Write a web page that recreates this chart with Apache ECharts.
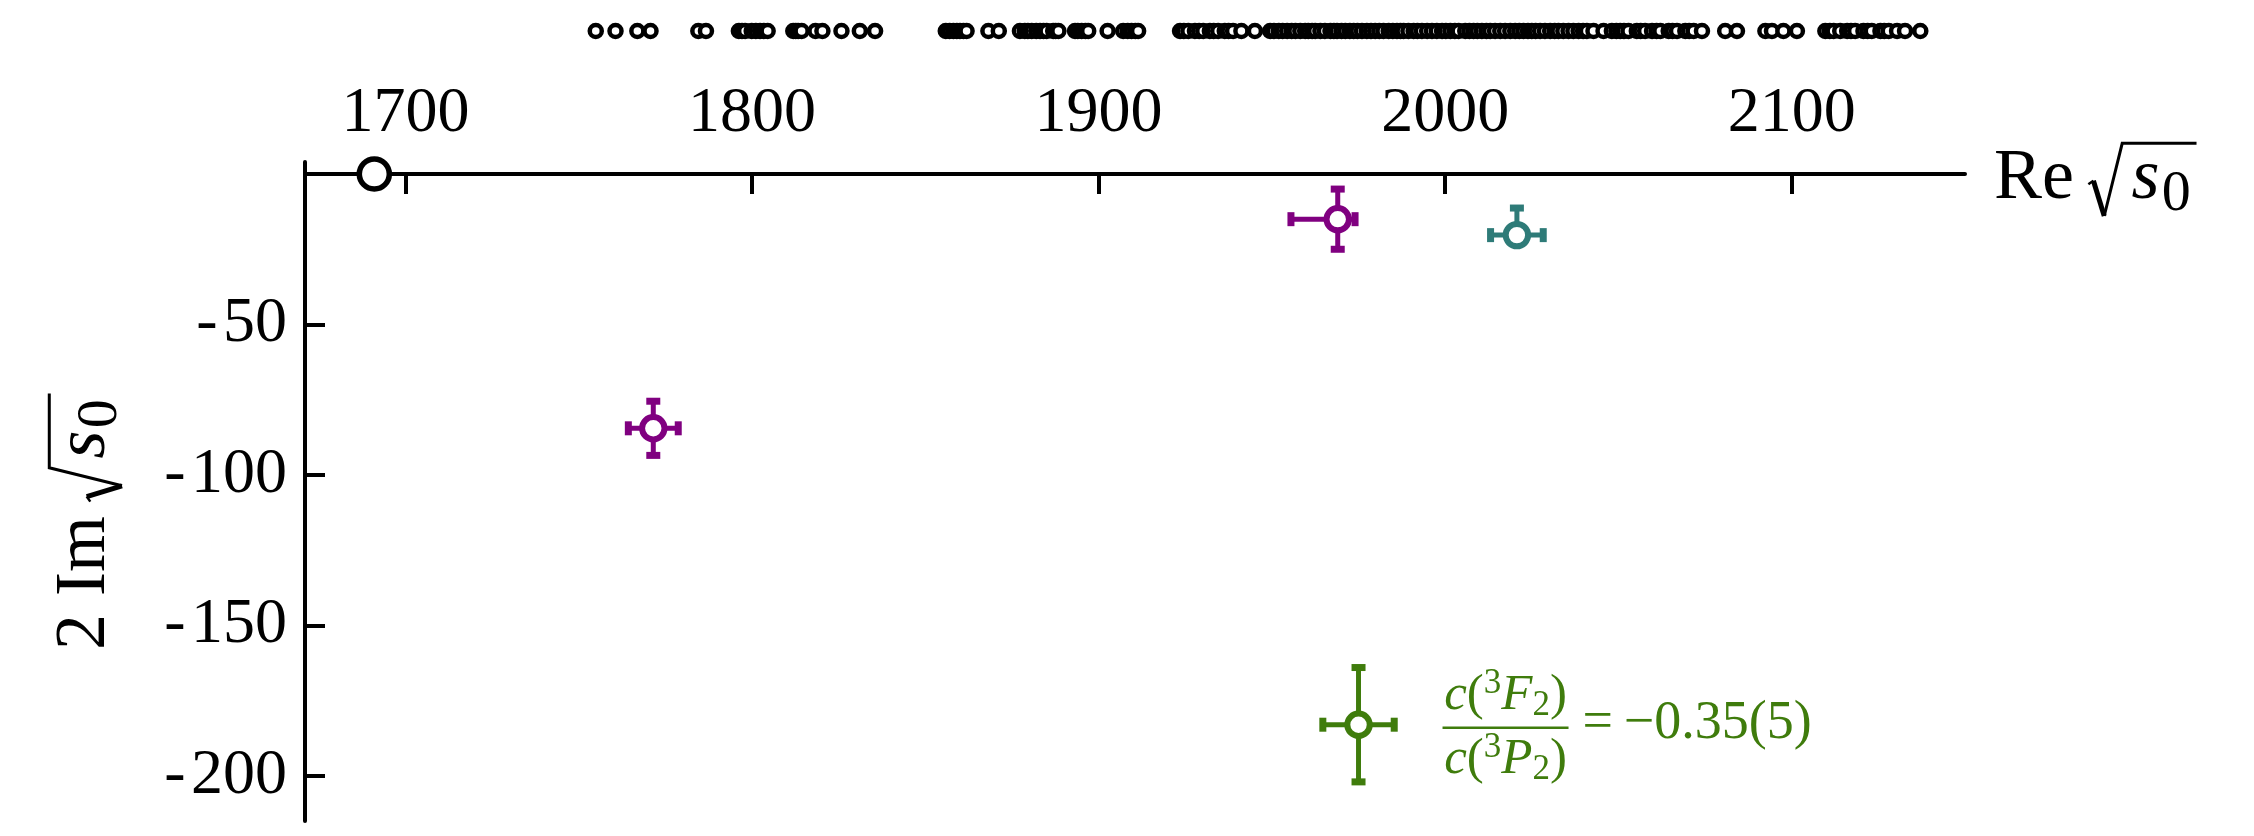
<!DOCTYPE html>
<html>
<head>
<meta charset="utf-8">
<script src="https://cdn.jsdelivr.net/npm/echarts@6/dist/echarts.min.js"></script>
<style>
  html, body { margin: 0; padding: 0; background: #fff; }
  #chart { width: 2254px; height: 836px; }
</style>
</head>
<body>
<div id="chart"></div>
<script>
// ---- data -------------------------------------------------------------
const reTicks = [1700, 1800, 1900, 2000, 2100];
const imTicks = [-200, -150, -100, -50];

// Re sqrt(s) of the two-body thresholds shown as the strip above the axis
const thresholdRe = [
  1754.9, 1760.6, 1766.9, 1770.7, 1784.5, 1786.7,
  1796.2, 1797.1, 1798.0, 1799.9, 1801.1, 1802.3, 1803.4, 1804.5,
  1811.9, 1812.6, 1813.3, 1814.3, 1818.3, 1820.3, 1825.8, 1831.1, 1835.5,
  1855.9, 1857.0, 1858.1, 1859.1, 1860.0, 1861.0, 1861.9, 1868.2, 1871.2,
  1877.3, 1878.7, 1879.6, 1880.7, 1882.0, 1883.1, 1884.1, 1885.0, 1886.9, 1887.6, 1888.4,
  1893.2, 1894.0, 1895.1, 1896.2, 1897.0, 1902.6, 1907.1, 1908.4, 1909.5, 1910.6, 1911.4,
  1923.5, 1924.6, 1925.9, 1927.8, 1929.0, 1930.2, 1932.1, 1933.2, 1934.5, 1936.4,
  1937.5, 1938.8, 1941.2, 1945.1,
  1949.5, 1950.6, 1952.0, 1953.1, 1954.4, 1955.7, 1956.8, 1958.2, 1959.6, 1960.5,
  1961.6, 1962.5, 1964.0, 1965.3, 1966.9, 1967.9, 1968.8, 1970.1, 1971.2, 1972.5,
  1973.6, 1974.7, 1976.0, 1977.4, 1978.6, 1979.8, 1981.0, 1982.2, 1983.7, 1984.9,
  1986.1, 1987.1, 1988.0, 1989.4, 1990.9, 1992.0, 1993.3, 1994.8, 1996.2, 1997.6,
  1999.1, 2000.2, 2001.5, 2002.8, 2003.9, 2005.8, 2007.0, 2008.2, 2009.3, 2010.6,
  2011.9, 2013.0, 2014.4, 2015.9, 2017.3, 2018.8, 2020.2, 2021.4, 2022.6, 2023.9,
  2025.0, 2026.1, 2027.4, 2028.8, 2030.3, 2031.6, 2032.7, 2034.1, 2035.6, 2037.0,
  2038.5, 2039.8, 2040.9, 2042.8, 2045.7,
  2048.1, 2049.4, 2050.5, 2051.6, 2052.9, 2055.3, 2056.4, 2057.7, 2059.7, 2061.0,
  2062.1, 2064.5, 2065.6, 2066.9, 2069.3, 2070.4, 2071.7, 2074.1,
  2080.8, 2084.2, 2092.4, 2094.3, 2097.6, 2101.5,
  2109.7, 2111.0, 2112.1, 2114.0, 2116.0, 2117.1, 2118.3, 2120.7, 2121.9, 2123.1,
  2125.6, 2126.7, 2128.0, 2130.4, 2132.7, 2137.1
];

// isolated marker on the real axis
const referencePole = [[1691, 0]];

// poles: [Re, 2 Im, Re err -, Re err +, Im err -, Im err +]
const polesPurple = [
  [1771.5, -84.5, 7.2, 7.2, 9.0, 9.0],
  [1969.0, -15.0, 13.5, 5.0, 10.0, 10.0]
];
const polesTeal = [
  [2020.7, -20.3, 7.6, 7.6, 2.0, 9.0]
];
const polesGreen = [
  [1975.0, -183.0, 10.3, 10.3, 19.0, 19.0]
];

const PURPLE = '#800080';
const TEAL = '#2e7b78';
const GREEN = '#3f7c0c';
const FONT = '"Liberation Serif", "DejaVu Serif", serif';

// ---- helpers ----------------------------------------------------------
const measureCtx = document.createElement('canvas').getContext('2d');
function textWidth(str, font) {
  measureCtx.font = font;
  return measureCtx.measureText(str).width;
}
// distance from the 'middle' text baseline down to the alphabetic baseline
function middleToBaseline(font) {
  measureCtx.font = font;
  measureCtx.textBaseline = 'middle';
  const d = measureCtx.measureText('H').actualBoundingBoxDescent;
  measureCtx.textBaseline = 'alphabetic';
  return d;
}

function errorBarItem(color) {
  return function (params, api) {
    const x = api.value(0), y = api.value(1);
    const c = api.coord([x, y]);
    const xl = api.coord([x - api.value(2), y])[0];
    const xr = api.coord([x + api.value(3), y])[0];
    const yb = api.coord([x, y - api.value(4)])[1];
    const yt = api.coord([x, y + api.value(5)])[1];
    const lw = 5, capHalf = 7, capT = 7;
    const line = { stroke: color, lineWidth: lw };
    const fill = { fill: color };
    return {
      type: 'group',
      children: [
        { type: 'line', shape: { x1: xl, y1: c[1], x2: xr, y2: c[1] }, style: line },
        { type: 'line', shape: { x1: c[0], y1: yt, x2: c[0], y2: yb }, style: line },
        { type: 'rect', shape: { x: xl - capT / 2, y: c[1] - capHalf, width: capT, height: 2 * capHalf }, style: fill },
        { type: 'rect', shape: { x: xr - capT / 2, y: c[1] - capHalf, width: capT, height: 2 * capHalf }, style: fill },
        { type: 'rect', shape: { x: c[0] - capHalf, y: yt - capT / 2, width: 2 * capHalf, height: capT }, style: fill },
        { type: 'rect', shape: { x: c[0] - capHalf, y: yb - capT / 2, width: 2 * capHalf, height: capT }, style: fill },
        { type: 'circle', shape: { cx: c[0], cy: c[1], r: 11.2 }, style: { fill: '#fff', stroke: color, lineWidth: 6 } }
      ]
    };
  };
}

function poleSeries(data, color) {
  return {
    type: 'custom',
    xAxisIndex: 0,
    yAxisIndex: 0,
    data: data,
    encode: { x: 0, y: 1 },
    renderItem: errorBarItem(color),
    clip: false,
    silent: true,
    z: 4
  };
}

// "<prefix> sqrt(s_0)" drawn with a hand-built radical sign
function radicalLabel(prefix, F, x, y, rotation) {
  const upright = F + 'px ' + FONT;
  const italic = 'italic ' + F + 'px ' + FONT;
  const Fz = Math.round(0.8 * F);
  const sub = Fz + 'px ' + FONT;
  const wPrefix = textWidth(prefix, upright);
  const wS = textWidth('s', italic);
  const wZ = textWidth('0', sub);
  const xr = wPrefix + 0.2 * F;
  const xs = xr + 0.6 * F;
  const xz = xs + wS + 0.03 * F;
  const xEnd = xz + wZ + 0.08 * F;
  const yTop = -0.76 * F;
  return {
    type: 'group',
    x: x, y: y, rotation: rotation,
    silent: true,
    children: [
      { type: 'text', style: { text: prefix, x: 0, y: -middleToBaseline(upright), font: upright, fill: '#000', align: 'left', verticalAlign: 'middle' } },
      { type: 'polyline', shape: { points: [[xr, -0.19 * F], [xr + 0.07 * F, -0.24 * F]] }, style: { stroke: '#000', lineWidth: 2.5, fill: null } },
      { type: 'line', shape: { x1: xr + 0.07 * F, y1: -0.24 * F, x2: xr + 0.22 * F, y2: 0.25 * F }, style: { stroke: '#000', lineWidth: 5 } },
      { type: 'polyline', shape: { points: [[xr + 0.22 * F, 0.25 * F], [xr + 0.47 * F, yTop], [xEnd, yTop]] }, style: { stroke: '#000', lineWidth: 3, fill: null } },
      { type: 'text', style: { text: 's', x: xs, y: -middleToBaseline(italic), font: italic, fill: '#000', align: 'left', verticalAlign: 'middle' } },
      { type: 'text', style: { text: '0', x: xz, y: 0.17 * F - middleToBaseline(sub), font: sub, fill: '#000', align: 'left', verticalAlign: 'middle' } }
    ]
  };
}

// ---- chart ------------------------------------------------------------
const chart = echarts.init(document.getElementById('chart'), null, { renderer: 'canvas' });

const axisLine = { color: '#000', width: 4 };
const option = {
  animation: false,
  backgroundColor: '#fff',
  grid: [
    { left: 305, top: 162, width: 1660, height: 659 },
    { left: 305, top: 21, width: 1660, height: 20 }
  ],
  xAxis: [
    {
      gridIndex: 0, type: 'value', position: 'top', min: 1671, max: 2150,
      axisLine: { show: true, onZero: true, lineStyle: axisLine },
      axisTick: { show: true, inside: true, length: 20, lineStyle: axisLine, customValues: reTicks },
      axisLabel: {
        show: true, margin: 16, fontSize: 64, fontFamily: FONT, color: '#000', customValues: reTicks,
        formatter: function (v) { return String(v); }
      },
      splitLine: { show: false }
    },
    { gridIndex: 1, type: 'value', min: 1671, max: 2150, show: false }
  ],
  yAxis: [
    {
      gridIndex: 0, type: 'value', position: 'left', min: -215, max: 4,
      axisLine: { show: true, onZero: false, lineStyle: axisLine },
      axisTick: { show: true, inside: true, length: 20, lineStyle: axisLine, customValues: imTicks },
      axisLabel: {
        show: true, margin: 18, fontSize: 64, fontFamily: FONT, color: '#000', customValues: imTicks,
        formatter: function (v) { return (v < 0 ? '-\u200A' : '') + Math.abs(v); }
      },
      splitLine: { show: false }
    },
    { gridIndex: 1, type: 'value', min: -1, max: 1, show: false }
  ],
  series: [
    {
      type: 'scatter', xAxisIndex: 1, yAxisIndex: 1,
      data: thresholdRe.map(function (v) { return [v, 0]; }),
      symbol: 'circle', symbolSize: 12,
      itemStyle: { color: '#fff', borderColor: '#000', borderWidth: 4.5, opacity: 1 },
      silent: true
    },
    {
      type: 'scatter', xAxisIndex: 0, yAxisIndex: 0,
      data: referencePole,
      symbol: 'circle', symbolSize: 30,
      itemStyle: { color: '#fff', borderColor: '#000', borderWidth: 5.5, opacity: 1 },
      silent: true, z: 5
    },
    poleSeries(polesPurple, PURPLE),
    poleSeries(polesTeal, TEAL),
    poleSeries(polesGreen, GREEN)
  ]
};
chart.setOption(option);

// ---- annotations ------------------------------------------------------
const gp = chart.convertToPixel({ xAxisIndex: 0, yAxisIndex: 0 }, [polesGreen[0][0], polesGreen[0][1]]);
const fracRich = {
  i: { fontFamily: FONT, fontStyle: 'italic', fontSize: 51, lineHeight: 57, fill: GREEN },
  n: { fontFamily: FONT, fontSize: 51, lineHeight: 57, fill: GREEN },
  sup: { fontFamily: FONT, fontSize: 35, lineHeight: 35, verticalAlign: 'top', fill: GREEN },
  sub: { fontFamily: FONT, fontSize: 35, lineHeight: 35, verticalAlign: 'bottom', fill: GREEN }
};
const fracLeft = gp[0] + 84;
const barY = gp[1] + 3;
const barW = 126;
const eqFont = '54px ' + FONT;

const graphics = [
  radicalLabel('Re', 72, 1994, 198, 0),
  radicalLabel('2 Im', 72, 104, 650, Math.PI / 2),
  {
    type: 'group', silent: true,
    children: [
      { type: 'text', style: { text: '{i|c}{n|(}{sup|3}{i|F}{sub|2}{n|)}', rich: fracRich, x: fracLeft + barW / 2, y: barY - 4, align: 'center', verticalAlign: 'bottom', fill: GREEN } },
      { type: 'rect', shape: { x: fracLeft, y: barY - 1.25, width: barW, height: 2.5 }, style: { fill: GREEN } },
      { type: 'text', style: { text: '{i|c}{n|(}{sup|3}{i|P}{sub|2}{n|)}', rich: fracRich, x: fracLeft + barW / 2, y: barY + 3, align: 'center', verticalAlign: 'top', fill: GREEN } },
      { type: 'text', style: { text: '=\u2009\u22120.35(5)', x: fracLeft + barW + 14, y: barY - 4, font: eqFont, fill: GREEN, align: 'left', verticalAlign: 'middle' } }
    ]
  }
];
chart.setOption({ graphic: graphics });
</script>
</body>
</html>
